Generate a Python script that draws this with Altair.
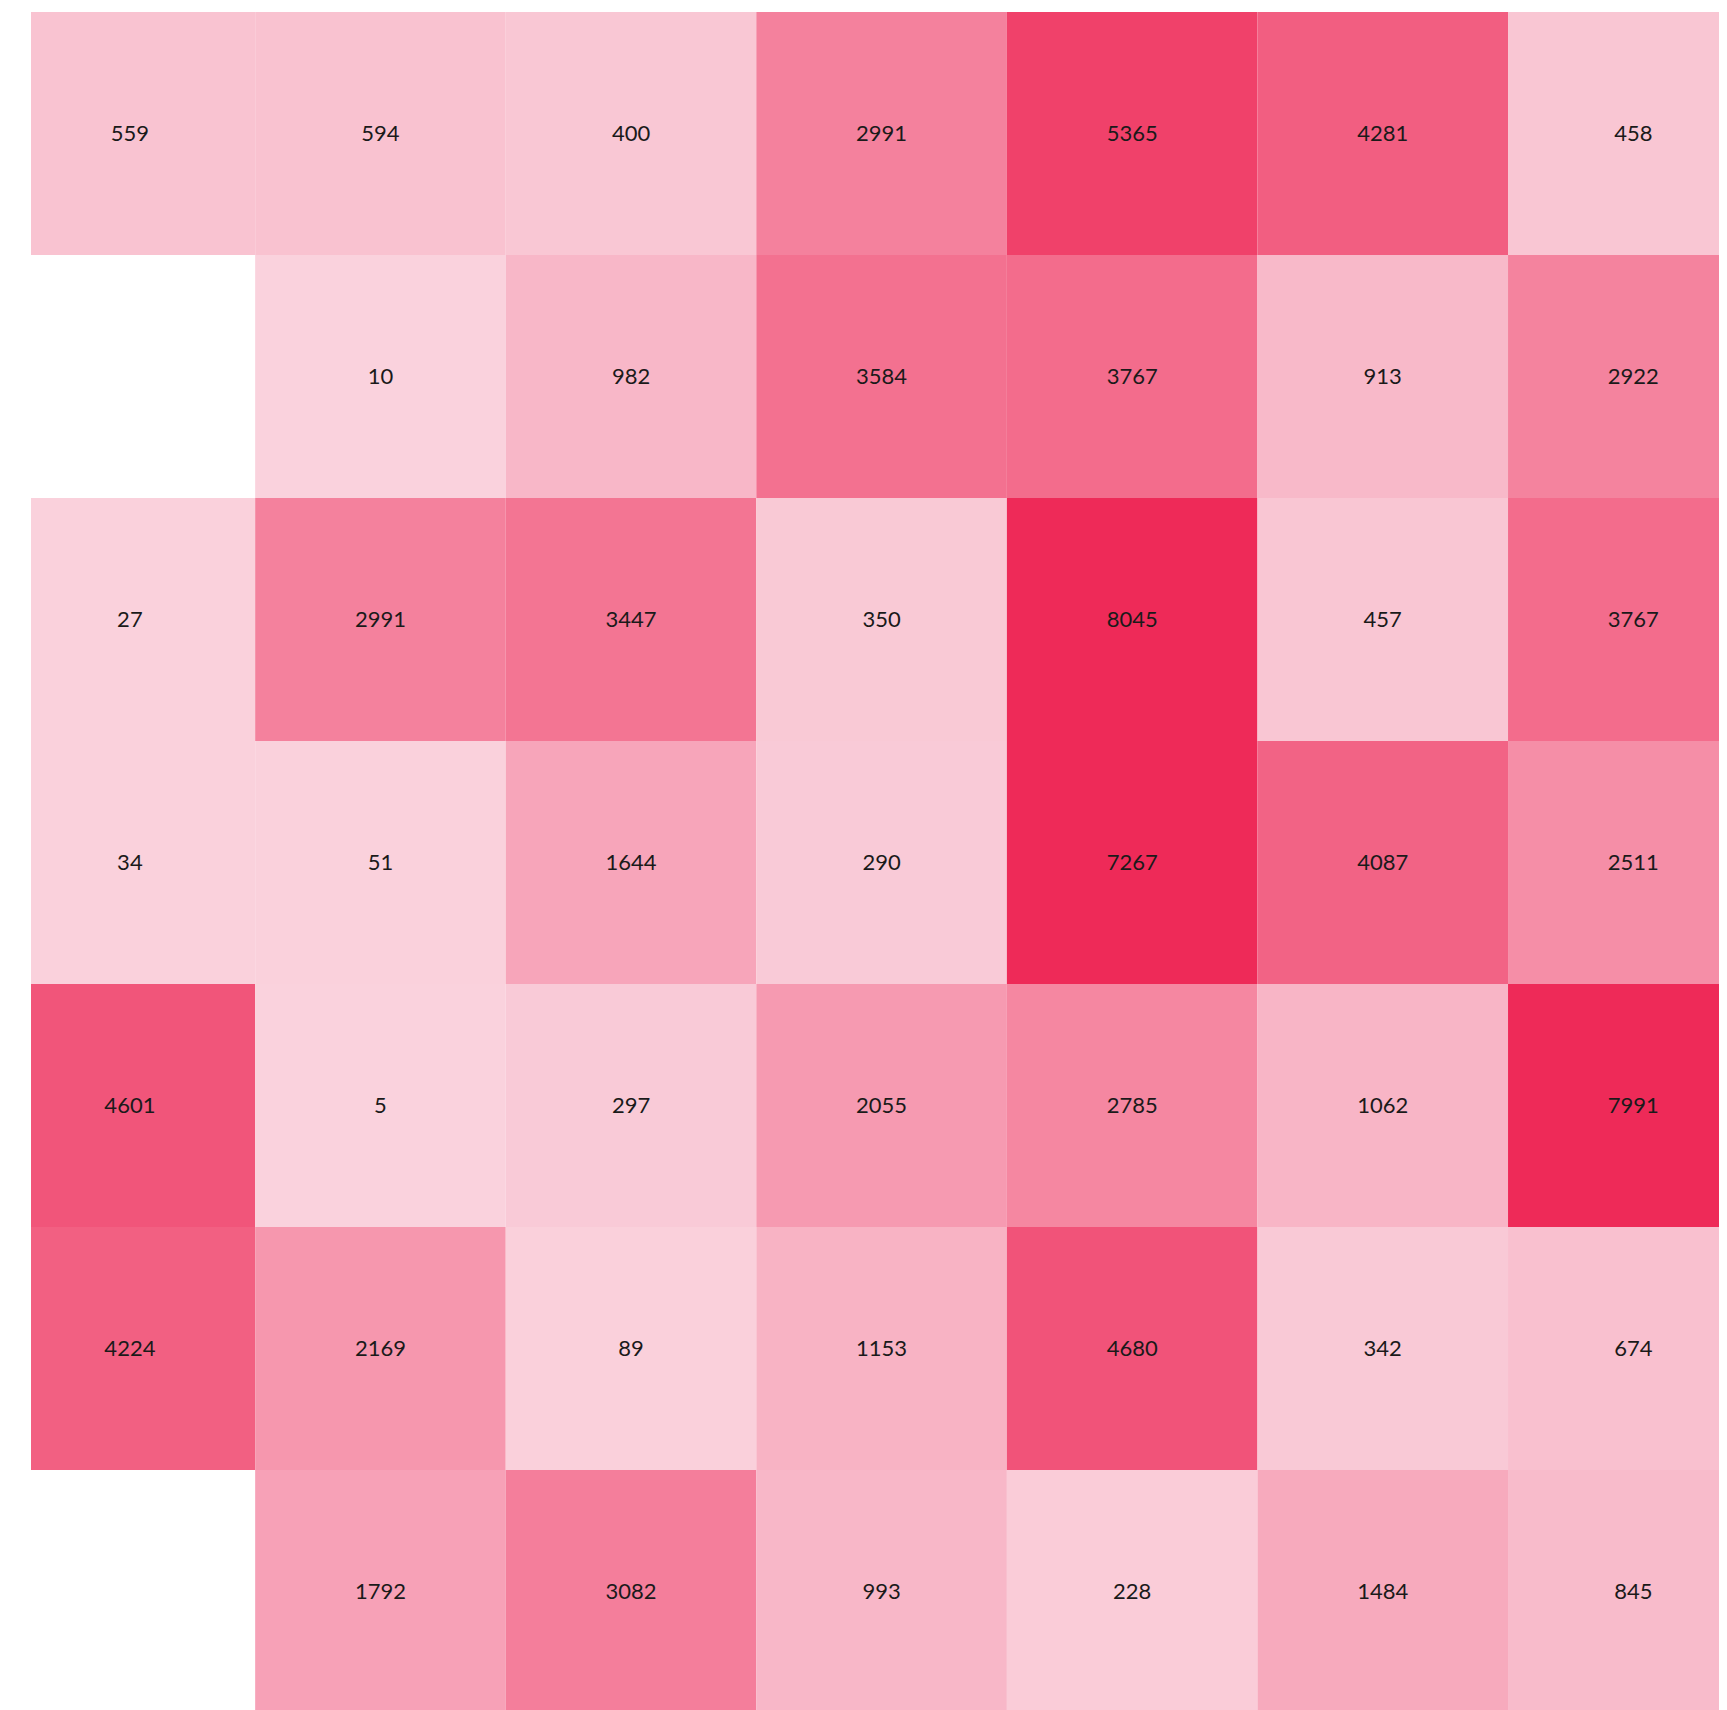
import altair as alt
import pandas as pd

cols = ["c1", "c2", "c3", "c4", "c5", "c6", "c7"]
rows = ["r1", "r2", "r3", "r4", "r5", "r6", "r7"]
values = [
    [559, 594, 400, 2991, 5365, 4281, 458],
    [None, 10, 982, 3584, 3767, 913, 2922],
    [27, 2991, 3447, 350, 8045, 457, 3767],
    [34, 51, 1644, 290, 7267, 4087, 2511],
    [4601, 5, 297, 2055, 2785, 1062, 7991],
    [4224, 2169, 89, 1153, 4680, 342, 674],
    [None, 1792, 3082, 993, 228, 1484, 845],
]

records = []
for r, row in zip(rows, values):
    for c, v in zip(cols, row):
        if v is not None:
            records.append({"col": c, "row": r, "value": v})
df = pd.DataFrame(records)

W = 1688
H = 1698

xs = alt.X("col:O", sort=cols, axis=None,
           scale=alt.Scale(range=[-26.4, 1727.6], paddingInner=0, paddingOuter=0))
ys = alt.Y("row:O", sort=rows, axis=None,
           scale=alt.Scale(range=[0, 1701], paddingInner=0, paddingOuter=0))

base = alt.Chart(df).encode(x=xs, y=ys)

rects = base.mark_rect(clip=True).encode(
    color=alt.Color("value:Q", legend=None,
                    scale=alt.Scale(domain=[0, 6200], range=["#fad2dd", "#ee2a58"],
                                    clamp=True, interpolate="rgb"))
)

labels = base.mark_text(font="Lato", fontSize=22, color="#1a1a1a",
                        baseline="middle", align="center", clip=True).encode(
    text=alt.Text("value:Q", format="d")
)

chart = (rects + labels).properties(
    width=W, height=H,
    padding={"left": 23, "top": 4, "right": 0, "bottom": 0},
    background="white",
).configure_view(stroke=None)

chart.save("out.html", embed_options={"renderer": "svg", "actions": False})
